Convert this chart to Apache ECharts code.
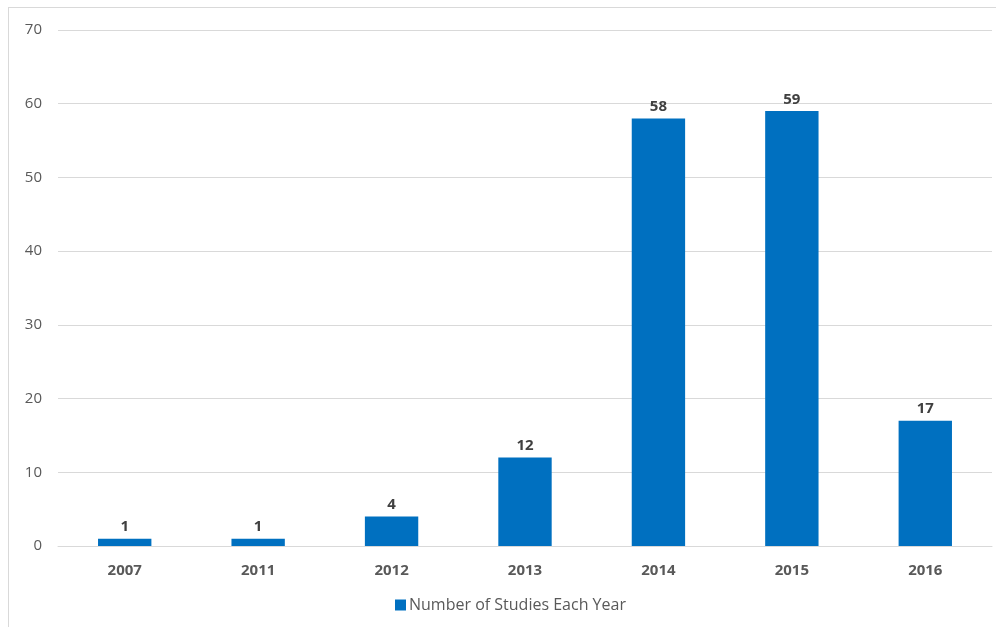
<!DOCTYPE html>
<html>
<head>
<meta charset="utf-8">
<script src="https://cdn.jsdelivr.net/npm/echarts@6/dist/echarts.min.js"></script>
<style>
html,body{margin:0;padding:0;background:#fff;overflow:hidden;}
#frame{position:absolute;left:8px;top:7px;width:1100px;height:700px;border:1px solid #d9d9d9;box-sizing:border-box;}
#chart{position:absolute;left:0;top:0;width:996px;height:627px;}
</style>
</head>
<body>
<div id="frame"></div>
<div id="chart"></div>
<script>
const categories = ['2007','2011','2012','2013','2014','2015','2016'];
const studies = [1, 1, 4, 12, 58, 59, 17];
const seriesName = 'Number of Studies Each Year';

const chart = echarts.init(document.getElementById('chart'));
chart.setOption({
  animation: false,
  grid: {left: 58, right: 4, top: 30, bottom: 81, containLabel: false},
  legend: {
    left: 390, top: 592,
    itemWidth: 11, itemHeight: 11, itemGap: 4,
    icon: 'rect',
    textStyle: {color: '#595959', fontSize: 16, padding: [0,0,0,-2], fontFamily: 'Open Sans, Noto Sans, sans-serif'},
    data: [seriesName]
  },
  xAxis: {
    type: 'category',
    data: categories,
    axisLine: {lineStyle: {color: '#d9d9d9', width: 1}},
    axisTick: {show: false},
    axisLabel: {color: '#595959', fontSize: 15, fontWeight: 'bold', margin: 17, fontFamily: 'Open Sans, Noto Sans, sans-serif'}
  },
  yAxis: {
    type: 'value',
    min: 0, max: 70, interval: 10,
    axisLine: {show: false},
    axisTick: {show: false},
    splitLine: {lineStyle: {color: '#d9d9d9', width: 1}},
    axisLabel: {color: '#595959', fontSize: 15, margin: 16, fontFamily: 'Open Sans, Noto Sans, sans-serif'}
  },
  series: [{
    name: seriesName,
    type: 'bar',
    data: studies,
    barWidth: '40%',
    itemStyle: {color: '#0070C0'},
    label: {
      show: true, position: 'top', distance: 4,
      color: '#404040', fontSize: 15, fontWeight: 'bold',
      fontFamily: 'Open Sans, Noto Sans, sans-serif'
    }
  }]
});
</script>
</body>
</html>
